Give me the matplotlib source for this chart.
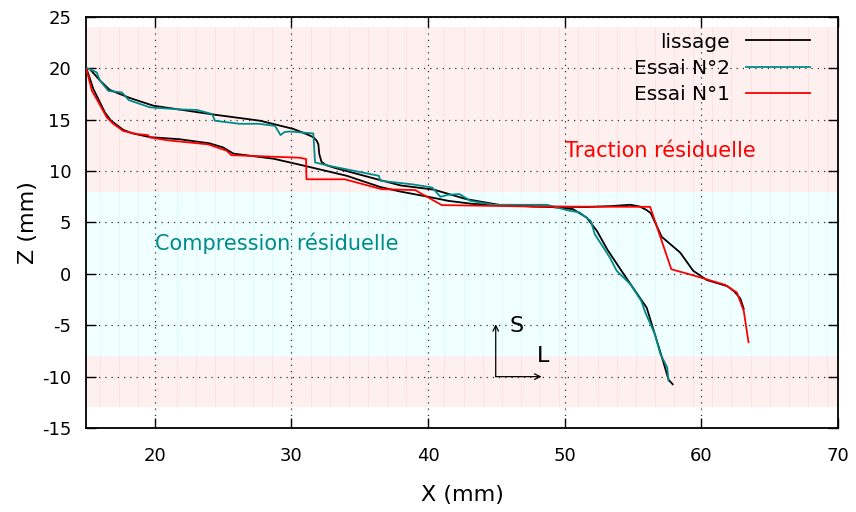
import numpy as np
import matplotlib
matplotlib.use("Agg")
import matplotlib.pyplot as plt

plt.rcParams['font.family'] = ['DejaVu Sans']
plt.rcParams['axes.unicode_minus'] = False

# ---- data ----
# Essai N°1 (red)
x_essai1 = [15.0, 15.4, 15.75, 16.5, 16.96, 17.7, 18.7, 19.5, 19.65, 20.9, 23.9, 25.26,
            25.6, 30.6, 31.07, 31.1, 33.9, 36.6, 39.05, 41.0, 47.7, 56.25, 57.8, 59.7,
            61.74, 62.6, 63.1, 63.45]
z_essai1 = [19.9, 17.8, 17.0, 15.2, 14.6, 13.9, 13.6, 13.5, 13.27, 13.0, 12.6, 11.98,
            11.55, 11.3, 11.17, 9.2, 9.2, 8.24, 8.15, 6.69, 6.55, 6.52, 0.45, -0.26,
            -1.07, -1.82, -3.6, -6.65]

# Essai N°2 (teal)
x_essai2 = [15.0, 15.26, 15.75, 15.99, 16.6, 17.6, 18.1, 19.65, 21.8, 23.07, 24.2, 24.4,
            26.2, 27.6, 28.8, 29.2, 29.5, 29.9, 31.6, 31.73, 32.8, 36.4, 36.5, 38.9,
            40.3, 40.9, 41.5, 42.3, 43.1, 44.8, 48.7, 50.15, 51.1, 51.4, 51.9, 52.2,
            53.3, 53.8, 54.8, 55.6, 55.9, 56.6, 57.0, 57.5, 57.6]
z_essai2 = [20.0, 19.9, 19.6, 18.8, 17.8, 17.65, 16.9, 16.2, 16.0, 15.95, 15.55, 14.9,
            14.6, 14.6, 14.4, 13.5, 13.8, 13.85, 13.66, 10.84, 10.5, 9.54, 9.06, 8.7,
            8.4, 7.5, 7.7, 7.76, 7.1, 6.72, 6.72, 6.2, 5.97, 5.65, 5.16, 3.86,
            1.59, 0.3, -1.0, -2.63, -3.77, -5.87, -7.8, -9.1, -10.4]

# lissage (black) for Essai N°1
x_liss1 = [15.0, 15.5, 16.35, 16.8, 17.7, 18.4, 19.65, 21.8, 24.0, 25.0, 25.75, 28.7,
           31.0, 34.05, 36.5, 38.0, 40.0, 41.5, 43.3, 47.7, 51.6, 53.5, 54.8, 55.5,
           56.0, 56.3, 57.1, 58.45, 59.4, 60.4, 61.9, 62.4, 62.85, 63.1]
z_liss1 = [20.0, 18.0, 15.7, 14.9, 14.0, 13.66, 13.3, 13.1, 12.7, 12.3, 11.7, 11.2,
           10.5, 9.54, 8.45, 8.0, 7.5, 7.1, 6.8, 6.55, 6.5, 6.6, 6.72, 6.55,
           6.2, 5.9, 3.6, 2.07, 0.3, -0.6, -1.2, -1.7, -2.4, -3.4]

# lissage (black) for Essai N°2
x_liss2 = [15.26, 16.0, 16.7, 18.2, 19.9, 24.3, 27.7, 30.14, 31.1, 31.6, 31.85, 31.97,
           32.04, 32.2, 32.5, 33.07, 36.5, 38.0, 40.4, 42.8, 45.3, 48.9, 50.6, 51.6,
           52.35, 53.1, 54.3, 56.0, 57.2, 57.6, 57.9]
z_liss2 = [19.9, 18.8, 17.9, 17.1, 16.36, 15.5, 14.9, 14.1, 13.6, 13.3, 12.95, 12.6,
           11.65, 10.9, 10.6, 10.35, 9.12, 8.6, 8.2, 7.27, 6.69, 6.52, 6.3, 5.48,
           4.19, 2.4, 0.0, -3.3, -8.5, -10.3, -10.74]

# background zones (Z limits)
traction_top = (8, 24)
compression = (-8, 8)
traction_bottom = (-13, -8)

x_ticks = [20, 30, 40, 50, 60, 70]
z_ticks = [-15, -10, -5, 0, 5, 10, 15, 20, 25]

# ---- figure ----
fig = plt.figure(figsize=(8.56, 5.12), dpi=100)
ax = fig.add_axes([0.101, 0.164, 0.878, 0.803])
ax.set_xlim(15, 70)
ax.set_ylim(-15, 25)

pink, pink_line = '#fff0f0', '#ffe2e2'
cyan, cyan_line = '#f0ffff', '#e0fafa'
for (z0, z1), fc, lc in [(traction_top, pink, pink_line),
                         (compression, cyan, cyan_line),
                         (traction_bottom, pink, pink_line)]:
    ax.axhspan(z0, z1, color=fc, lw=0, zorder=0)
    ax.vlines(np.arange(16.0, 70, 1.4), z0, z1, color=lc, lw=0.8, zorder=0.5)

ax.grid(True, ls=(0, (1, 4)), color='#333333', lw=0.9, zorder=1)

ax.plot(x_liss2, z_liss2, color='black', lw=1.3, label='lissage', zorder=3)
ax.plot(x_liss1, z_liss1, color='black', lw=1.3, zorder=3)
ax.plot(x_essai2, z_essai2, color='#008b8b', lw=1.3, label='Essai N°2', zorder=4)
ax.plot(x_essai1, z_essai1, color='#ff0000', lw=1.3, label='Essai N°1', zorder=5)

# S / L orientation arrows
ax.annotate('', xy=(44.95, -4.9), xytext=(44.95, -10),
            arrowprops=dict(arrowstyle='->', lw=0.9, color='black', shrinkA=0, shrinkB=0))
ax.annotate('', xy=(48.3, -10), xytext=(44.95, -10),
            arrowprops=dict(arrowstyle='->', lw=0.9, color='black', shrinkA=0, shrinkB=0))
ax.text(46.5, -5.1, 'S', fontsize=16, ha='center', va='center')
ax.text(48.4, -8.0, 'L', fontsize=16, ha='center', va='center')

ax.text(50.0, 12.0, 'Traction résiduelle', color='red', fontsize=15, va='center')
ax.text(20.0, 3.0, 'Compression résiduelle', color='#008b8b', fontsize=15, va='center')

ax.set_xticks(x_ticks)
ax.set_yticks(z_ticks)
ax.tick_params(direction='in', top=True, right=True, length=7, width=1,
               labelsize=13, pad=11)
ax.tick_params(axis='x', pad=14)
for s in ax.spines.values():
    s.set_linewidth(1.3)

ax.set_xlabel('X (mm)', fontsize=16, labelpad=14)
ax.set_ylabel('Z (mm)', fontsize=16, labelpad=3)

ax.legend(loc='upper right', bbox_to_anchor=(0.963, 0.962), frameon=False,
          markerfirst=False, fontsize=14.5, handlelength=3.2, handletextpad=0.8,
          labelspacing=0.35, borderpad=0, borderaxespad=0)

fig.savefig('out.png', dpi=100)
